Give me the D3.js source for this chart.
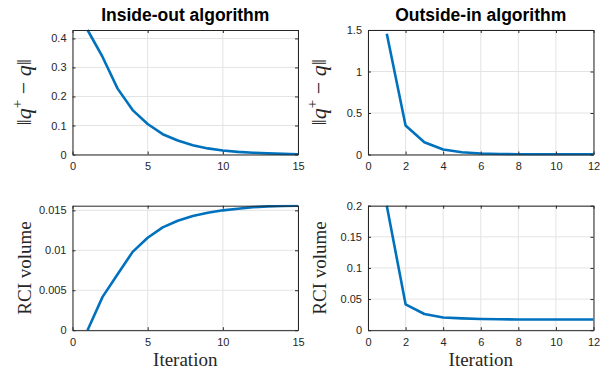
<!DOCTYPE html>
<html>
<head>
<meta charset="utf-8">
<script src="https://cdn.jsdelivr.net/npm/d3@7"></script>
<style>
  body { margin: 0; background: #fff; }
  svg { display: block; }
  .tick text { font-family: "Liberation Sans", Arial, sans-serif; font-size: 11px; fill: #262626; }
  .title { font-family: "Liberation Sans", Arial, sans-serif; font-size: 17.5px; font-weight: bold; fill: #000; }
  .axis-label { font-family: "Liberation Serif", "DejaVu Serif", serif; font-size: 19px; fill: #262626; }
</style>
</head>
<body>
<div id="chart"></div>
<script>
// iterations
const insideIter = d3.range(1, 16);
const outsideIter = d3.range(1, 13);

// ||q+ - q|| per iteration
const insideStep = [0.429, 0.336, 0.227, 0.153, 0.105, 0.070, 0.048, 0.032, 0.021, 0.014, 0.009, 0.006, 0.004, 0.002, 0.001];
const outsideStep = [1.455, 0.349, 0.147, 0.060, 0.027, 0.012, 0.006, 0.003, 0.002, 0.001, 0.001, 0.001];

// RCI volume per iteration
const insideVolume = [0, 0.00417, 0.0070, 0.0098, 0.01157, 0.01287, 0.0137, 0.0143, 0.0147, 0.0150, 0.0152, 0.0154, 0.0155, 0.01555, 0.01558];
const outsideVolume = [0.2, 0.0415, 0.026, 0.0205, 0.019, 0.018, 0.0176, 0.0173, 0.0172, 0.0171, 0.0171, 0.0171];

// axes ticks
const insideXTicks = [0, 5, 10, 15];
const outsideXTicks = [0, 2, 4, 6, 8, 10, 12];
const insideStepTicks = [0, 0.1, 0.2, 0.3, 0.4];
const outsideStepTicks = [0, 0.5, 1, 1.5];
const insideVolTicks = [0, 0.005, 0.01, 0.015];
const outsideVolTicks = [0, 0.05, 0.1, 0.15, 0.2];

const titles = ["Inside-out algorithm", "Outside-in algorithm"];

const W = 611, H = 373;
const svg = d3.select("#chart").append("svg").attr("width", W).attr("height", H);

const panels = [
  { left: 72.5, top: 30, xs: insideIter, ys: insideStep, xmax: 15, ymax: 0.429, xt: insideXTicks, yt: insideStepTicks, label: "norm", title: titles[0] },
  { left: 368, top: 30, xs: outsideIter, ys: outsideStep, xmax: 12, ymax: 1.5, xt: outsideXTicks, yt: outsideStepTicks, label: "norm", title: titles[1] },
  { left: 72.5, top: 205.7, xs: insideIter, ys: insideVolume, xmax: 15, ymax: 0.01558, xt: insideXTicks, yt: insideVolTicks, label: "vol", xlabel: true },
  { left: 368, top: 205.7, xs: outsideIter, ys: outsideVolume, xmax: 12, ymax: 0.2, xt: outsideXTicks, yt: outsideVolTicks, label: "vol", xlabel: true }
];
const pw = 225.5, ph = 124.5;
const fmt = d3.format("~g");

panels.forEach((p, i) => {
  const g = svg.append("g").attr("transform", `translate(${p.left},${p.top})`);
  const x = d3.scaleLinear().domain([0, p.xmax]).range([0, pw]);
  const y = d3.scaleLinear().domain([0, p.ymax]).range([ph, 0]);

  // grid
  g.append("g").selectAll("line").data(p.xt).enter().append("line")
    .attr("x1", d => x(d)).attr("x2", d => x(d)).attr("y1", 0).attr("y2", ph)
    .attr("stroke", "#e3e3e3").attr("stroke-width", 1);
  g.append("g").selectAll("line").data(p.yt).enter().append("line")
    .attr("y1", d => y(d)).attr("y2", d => y(d)).attr("x1", 0).attr("x2", pw)
    .attr("stroke", "#e3e3e3").attr("stroke-width", 1);

  // data line
  const clipId = "clip" + i;
  g.append("clipPath").attr("id", clipId).append("rect")
    .attr("x", 0).attr("y", -1).attr("width", pw).attr("height", ph + 2);
  const pts = p.xs.map((v, k) => [v, p.ys[k]]);
  g.append("path").datum(pts)
    .attr("clip-path", `url(#${clipId})`)
    .attr("d", d3.line().x(d => x(d[0])).y(d => y(d[1])))
    .attr("fill", "none").attr("stroke", "#0072BD").attr("stroke-width", 2.6)
    .attr("stroke-linejoin", "round");

  // axes with inward ticks
  const xa = g.append("g").attr("transform", `translate(0,${ph})`)
    .call(d3.axisBottom(x).tickValues(p.xt).tickFormat(fmt).tickSizeInner(-3).tickSizeOuter(0).tickPadding(8));
  const ya = g.append("g")
    .call(d3.axisLeft(y).tickValues(p.yt).tickFormat(fmt).tickSizeInner(-3).tickSizeOuter(0).tickPadding(6));
  const xt = g.append("g")
    .call(d3.axisTop(x).tickValues(p.xt).tickFormat("").tickSizeInner(-3).tickSizeOuter(0));
  const yr = g.append("g").attr("transform", `translate(${pw},0)`)
    .call(d3.axisRight(y).tickValues(p.yt).tickFormat("").tickSizeInner(-3).tickSizeOuter(0));
  [xa, ya, xt, yr].forEach(a => {
    a.selectAll(".domain").attr("stroke", "#262626").attr("stroke-width", 1);
    a.selectAll(".tick line").attr("stroke", "#262626");
  });

  // title
  if (p.title) {
    g.append("text").attr("class", "title")
      .attr("x", pw / 2).attr("y", -9).attr("text-anchor", "middle")
      .text(p.title);
  }

  // y label
  const yl = g.append("text").attr("class", "axis-label")
    .attr("transform", `translate(${-42},${ph / 2}) rotate(-90)`)
    .attr("text-anchor", "middle");
  if (p.label === "norm") {
    yl.style("font-size", "22px");
    yl.append("tspan").text("\u2016");
    yl.append("tspan").attr("font-style", "italic").text("q");
    yl.append("tspan").attr("font-size", "15px").attr("dy", -9).text("+");
    yl.append("tspan").attr("dy", 9).text(" \u2212 ");
    yl.append("tspan").attr("font-style", "italic").text("q");
    yl.append("tspan").text("\u2016");
  } else {
    yl.text("RCI volume");
  }

  // x label
  if (p.xlabel) {
    g.append("text").attr("class", "axis-label")
      .attr("x", pw / 2).attr("y", ph + 36).attr("text-anchor", "middle")
      .text("Iteration");
  }
});
</script>
</body>
</html>
